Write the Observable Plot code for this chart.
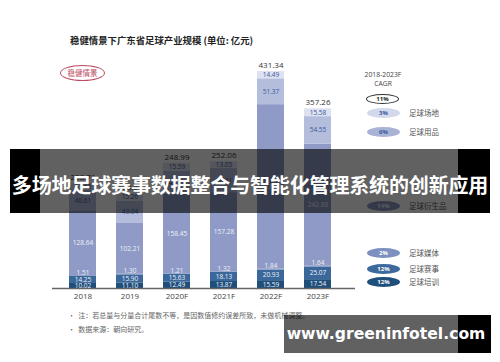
<!DOCTYPE html>
<html><head><meta charset="utf-8">
<script src="https://cdn.jsdelivr.net/npm/d3@7"></script>
<script src="https://cdn.jsdelivr.net/npm/@observablehq/plot@0.6"></script>
<style>
body{margin:0;background:#fff;}
#wrap{position:relative;width:500px;height:362px;overflow:hidden;font-family:"Noto Sans CJK SC","Noto Sans",sans-serif;background:#fff;}
#chart{position:absolute;left:0;top:0;}
.abs{position:absolute;white-space:nowrap;}
.ell{position:absolute;width:33px;height:10px;border-radius:50%;font-family:"Open Sans","Noto Sans",sans-serif;font-size:6px;font-weight:bold;text-align:center;line-height:10px;}
.lgl{position:absolute;font-size:7.5px;color:#555;line-height:10px;}
</style></head><body>
<div id="wrap">
  <div id="chart"></div>
</div>
<script>
// ---- data ----
const years = ["2018", "2019", "2020F", "2021F", "2022F", "2023F"];
const categories = ["足球培训", "足球赛事", "足球媒体", "足球衍生品", "足球用品", "足球场地"]; // bottom -> top
const training    = [10.02, 11.10, 12.49, 13.87, 15.59, 17.54];
const events      = [14.25, 15.90, 15.63, 18.13, 20.93, 25.07];
const media       = [1.51, 1.30, 1.21, 1.32, 1.84, 1.64];
const derivatives = [128.64, 102.21, 158.45, 157.28, 327.12, 242.88];
const goods       = [40.61, 43.04, 45.62, 48.41, 51.37, 54.55];
const venues      = [13.68, 15.26, 15.59, 13.05, 14.49, 15.58];
const totals      = [208.71, 188.81, 248.99, 252.06, 431.34, 357.26];
const legendCats  = ["足球场地", "足球用品", "足球衍生品", "足球媒体", "足球赛事", "足球培训"];
const legendCagr  = ["3%", "6%", "14%", "2%", "12%", "12%"];
const totalCagr   = "11%";

// ---- styles ----
const colors = ["#1f4e7b", "#3b689a", "#7c90c0", "#8f9bc6", "#b4bddc", "#dde1f0"];
const legendFill = {"足球场地":"#d3d8ec","足球用品":"#a9b3d6","足球衍生品":"#8a96c2","足球媒体":"#7d91c0","足球赛事":"#3d6a9d","足球培训":"#1f4f7c"};
const legendText = {"足球场地":"#3a5a9a","足球用品":"#3a5a9a","足球衍生品":"#e8ebf3","足球媒体":"#fff","足球赛事":"#fff","足球培训":"#fff"};
const legendY = [107.5, 126.5, 201, 248, 263.5, 277];

const series = [training, events, media, derivatives, goods, venues];
const rows = [];
years.forEach((y, i) => {
  let base = 0;
  series.forEach((s, j) => {
    rows.push({year: y, cat: categories[j], value: s[i], base, top: base + s[i], mid: base + s[i] / 2});
    base += s[i];
  });
});
const lightLabels = rows.filter(d => ["足球培训", "足球赛事", "足球衍生品"].includes(d.cat));
const mediaLabels = rows.filter(d => d.cat === "足球媒体");
const darkLabels = rows.filter(d => ["足球用品", "足球场地"].includes(d.cat));
const totalRows = years.map((y, i) => ({year: y, value: totals[i]}));
const fmt = d => d.value.toFixed(2);
const numFont = "'Open Sans','Noto Sans',sans-serif";

const chart = Plot.plot({
  width: 500, height: 362,
  marginLeft: 52, marginRight: 145, marginTop: 0, marginBottom: 74,
  x: {domain: years, range: [45.84, 353.84], padding: 0.42, label: null},
  y: {domain: [0, 450], range: [288, 288 - 450 * 0.503], axis: null},
  color: {domain: categories, range: colors},
  style: {fontFamily: numFont, background: "transparent", overflow: "visible"},
  marks: [
    Plot.barY(rows, {x: "year", y1: "base", y2: "top", fill: "cat"}),
    Plot.ruleY([0], {stroke: "#666", strokeWidth: 1.5}),
    Plot.axisX({tickSize: 0, tickPadding: 5, fontSize: 8, color: "#444", label: null}),
    Plot.text(lightLabels, {x: "year", y: "mid", text: fmt, fill: "#eef0f7", fontSize: 6.5}),
    Plot.text(mediaLabels, {x: "year", y: "top", text: fmt, fill: "#eef0f7", fontSize: 6.5, dy: -3}),
    Plot.text(darkLabels, {x: "year", y: "mid", text: fmt, fill: "#3a5a9a", fontSize: 6.5}),
    Plot.text(totalRows, {x: "year", y: "value", text: fmt, fill: "#333", fontSize: 8, dy: -6})
  ]
});
document.getElementById("chart").appendChild(chart);

const wrap = document.getElementById("wrap");
function add(html) { wrap.insertAdjacentHTML("beforeend", html); }

// title & scenario tag
add(`<div class="abs" style="left:70px;top:33px;font-size:9.4px;font-weight:bold;color:#222;">稳健情景下广东省足球产业规模 (单位: 亿元)</div>`);
add(`<div class="abs" style="left:60px;top:65px;width:43px;height:14px;border:1.5px solid #b94b5d;border-radius:50%;color:#b94b5d;font-size:7.5px;text-align:center;line-height:14px;">稳健情景</div>`);

// legend
add(`<div class="abs" style="left:353px;top:70px;width:60px;text-align:center;font-family:${numFont};font-size:6.8px;color:#444;line-height:9px;">2018-2023F<br>CAGR</div>`);
add(`<div class="ell" style="left:366px;top:94px;width:31px;height:8px;border:1px solid #333;background:#fff;color:#222;line-height:8px;">${totalCagr}</div>`);
legendCats.forEach((c, i) => {
  add(`<div class="ell" style="left:367px;top:${legendY[i]}px;background:${legendFill[c]};color:${legendText[c]};">${legendCagr[i]}</div>`);
  add(`<div class="lgl" style="left:409px;top:${legendY[i]}px;">${c}</div>`);
});

// notes
add(`<div class="abs" style="left:68px;top:308px;font-size:7px;color:#666;line-height:14px;">•&nbsp; 注：若总量与分量合计尾数不等，是因数值修约误差所致，未做机械调整。<br>•&nbsp; 数据来源：朝向研究。</div>`);

// overlay banner
add(`<div class="abs" style="left:10px;top:149px;width:30px;height:64px;background:#000;"></div>`);
add(`<div class="abs" style="left:40px;top:149px;width:418px;height:64px;background:rgba(0,0,0,0.62);"></div>`);
add(`<div class="abs" style="left:458px;top:149px;width:32px;height:64px;background:#000;"></div>`);
add(`<div class="abs" style="left:0px;top:172px;width:500px;text-align:center;font-size:20px;font-weight:bold;color:#fff;line-height:26px;letter-spacing:-0.15px;">多场地足球赛事数据整合与智能化管理系统的创新应用</div>`);

// bottom watermark
add(`<div class="abs" style="left:284px;top:315px;width:174px;height:38px;background:rgba(0,0,0,0.62);"></div>`);
add(`<div class="abs" style="left:458px;top:315px;width:33px;height:38px;background:#000;"></div>`);
add(`<div class="abs" style="left:286px;top:322px;width:200px;text-align:center;font-family:'DejaVu Sans',sans-serif;font-size:15.6px;font-weight:bold;color:#fff;line-height:24px;">www.greeninfotel.com</div>`);
</script>
</body></html>
